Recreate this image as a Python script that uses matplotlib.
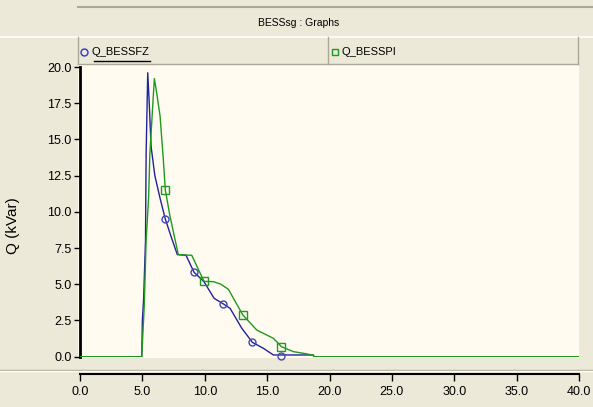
import matplotlib
matplotlib.use("Agg")
import matplotlib.pyplot as plt
from matplotlib.lines import Line2D
from matplotlib.patches import Rectangle

# -----------------------------
# Data
# -----------------------------
t_fz = [0.0, 4.95, 5.0, 5.1, 5.25, 5.3, 5.43, 5.55, 5.7, 6.0, 6.4, 6.84, 7.3, 7.8, 8.5,
        9.14, 9.94, 10.75, 11.5, 12.03, 12.97, 13.82, 14.7, 15.5, 18.7, 18.75, 40.0]
q_fz = [0.0, 0.0, 2.5, 4.0, 8.0, 14.0, 19.6, 17.5, 14.5, 12.5, 11.0, 9.5, 8.3, 7.05, 7.0,
        5.83, 5.18, 4.03, 3.64, 3.34, 1.96, 0.99, 0.58, 0.12, 0.12, 0.0, 0.0]

t_pi = [0.0, 4.95, 5.0, 5.15, 5.3, 5.5, 5.6, 5.96, 6.15, 6.42, 6.68, 6.84, 7.22, 7.88, 8.96,
        9.94, 10.7, 11.3, 11.9, 13.05, 14.17, 15.5, 16.15, 17.1, 18.2, 18.7, 18.75, 40.0]
q_pi = [0.0, 0.0, 0.9, 3.5, 8.0, 11.0, 14.0, 19.2, 18.2, 16.6, 13.6, 11.5, 9.67, 7.05, 7.0,
        5.2, 5.18, 5.0, 4.65, 2.88, 1.84, 1.27, 0.69, 0.35, 0.19, 0.1, 0.0, 0.0]

# marker positions
mk_fz_t = [6.84, 9.14, 11.5, 13.82, 16.15]
mk_fz_q = [9.5, 5.83, 3.64, 0.99, 0.05]
mk_pi_t = [6.84, 9.94, 13.05, 16.15]
mk_pi_q = [11.5, 5.2, 2.88, 0.69]

x_ticks = [0, 5, 10, 15, 20, 25, 30, 35, 40]
y_ticks = [0, 2.5, 5, 7.5, 10, 12.5, 15, 17.5, 20]

# -----------------------------
# Layout helpers (pixel -> figure fraction)
# -----------------------------
W, H = 593, 407
BG = "#ECE9D8"
CREAM = "#FFFBF0"
BLUE = "#22229A"
GREEN = "#1E9A1E"
FONT = "Liberation Sans"


def rect(x0, y0, x1, y1):
    return [x0 / W, 1 - y1 / H, (x1 - x0) / W, (y1 - y0) / H]


def hline(y, x0, x1, color, lw=1.0):
    fig.add_artist(Line2D([x0 / W, x1 / W], [1 - y / H, 1 - y / H],
                          color=color, lw=lw, transform=fig.transFigure))


def vline(x, y0, y1, color, lw=1.0):
    fig.add_artist(Line2D([x / W, x / W], [1 - y0 / H, 1 - y1 / H],
                          color=color, lw=lw, transform=fig.transFigure))


fig = plt.figure(figsize=(W / 100, H / 100), dpi=100, facecolor=BG)

# -----------------------------
# Title bar and legend strip
# -----------------------------
hline(7, 78, 593, "#ACA899", 1.5)
hline(36.5, 0, 593, "#FFFFFF", 1.2)
fig.text(299 / W, 1 - 23 / H, "BESSsg : Graphs", ha="center", va="center",
         fontsize=7.5, family=FONT)

vline(78, 37, 64, "#ACA899")
vline(328, 37, 64, "#ACA899")
vline(578, 37, 64, "#ACA899")
hline(63.5, 78, 578, "#ACA899")

fig.add_artist(Line2D([83.5 / W], [1 - 52 / H], marker="o", ms=5, mfc="none",
                      mec="#3333CC", mew=1.0, transform=fig.transFigure))
fig.text(92 / W, 1 - 52 / H, "Q_BESSFZ", ha="left", va="center", fontsize=8, family=FONT)
hline(61, 94, 150, "#000000", 1.0)
fig.add_artist(Line2D([335 / W], [1 - 52 / H], marker="s", ms=5, mfc="none",
                      mec=GREEN, mew=1.0, transform=fig.transFigure))
fig.text(341 / W, 1 - 52 / H, "Q_BESSPI", ha="left", va="center", fontsize=8, family=FONT)

# cream plotting panel
fig.add_artist(Rectangle((78 / W, 1 - 358 / H), (579 - 78) / W, (358 - 64) / H,
                         transform=fig.transFigure, facecolor=CREAM, edgecolor="none",
                         zorder=0))

# -----------------------------
# Data axes
# -----------------------------
ax = fig.add_axes(rect(80, 67, 579, 356.7))
ax.set_facecolor("none")
ax.plot(t_fz, q_fz, color=BLUE, lw=1.0, zorder=3)
ax.plot(t_pi, q_pi, color=GREEN, lw=1.0, zorder=4)
ax.plot(mk_fz_t, mk_fz_q, ls="none", marker="o", ms=5, mfc="none",
        mec="#4444BB", mew=1.0, zorder=5, clip_on=False)
ax.plot(mk_pi_t, mk_pi_q, ls="none", marker="s", ms=6, mfc="none",
        mec=GREEN, mew=1.0, zorder=5, clip_on=False)
ax.set_xlim(0, 40)
ax.set_ylim(0, 20)
for s in ["top", "right", "bottom"]:
    ax.spines[s].set_visible(False)
ax.spines["left"].set_linewidth(2.0)
ax.spines["left"].set_color("black")
ax.set_xticks([])
ax.set_yticks(y_ticks)
ax.set_yticklabels([f"{v:.1f}" for v in y_ticks], fontsize=9, family=FONT)
ax.tick_params(axis="y", length=4, width=1, pad=2)

fig.text(13 / W, 1 - 226 / H, "Q (kVar)", rotation=90, ha="center", va="center",
         fontsize=11, family=FONT)

# separator between panel and time axis
hline(369.5, 0, 593, "#ACA899", 1.0)
hline(370.5, 0, 593, "#FFFFFF", 1.0)

# -----------------------------
# Time axis
# -----------------------------
axx = fig.add_axes(rect(80, 360, 579, 373.5))
axx.set_facecolor("none")
for s in ["top", "right", "left"]:
    axx.spines[s].set_visible(False)
axx.spines["bottom"].set_linewidth(1.5)
axx.set_xlim(0, 40)
axx.set_yticks([])
axx.set_xticks(x_ticks)
axx.set_xticklabels([f"{v:.1f}" for v in x_ticks], fontsize=9, family=FONT)
axx.tick_params(axis="x", length=5, width=1, pad=4)

fig.savefig("out.png", dpi=100, facecolor=BG)
